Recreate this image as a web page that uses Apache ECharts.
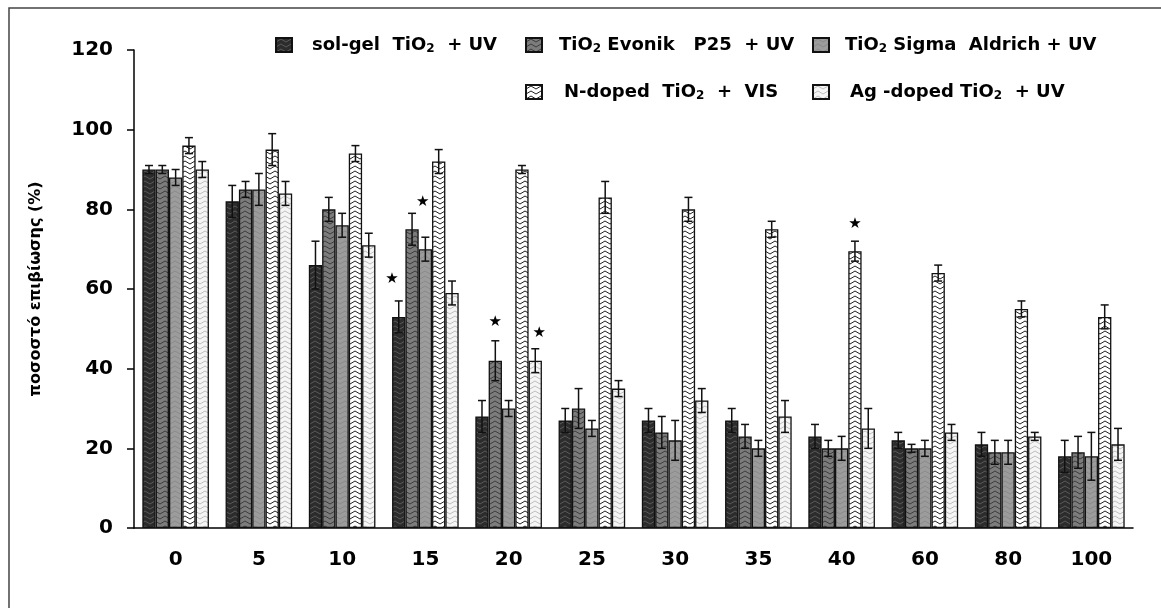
<!DOCTYPE html>
<html>
<head>
<meta charset="utf-8">
<script src="https://cdn.jsdelivr.net/npm/echarts@6/dist/echarts.min.js"></script>
<style>
  body { margin: 0; background: #fff; }
  #chart { width: 1161px; height: 608px; }
</style>
</head>
<body>
<div id="chart"></div>
<script>
// exposure time (min) on the x axis
var categories = ['0', '5', '10', '15', '20', '25', '30', '35', '40', '60', '80', '100'];

// survival % and error (+/-) for each treatment
var solGel    = [90, 82, 66, 53, 28, 27, 27, 27, 23, 22, 21, 18];
var solGelErr = [1, 4, 6, 4, 4, 3, 3, 3, 3, 2, 3, 4];
var p25       = [90, 85, 80, 75, 42, 30, 24, 23, 20, 20, 19, 19];
var p25Err    = [1, 2, 3, 4, 5, 5, 4, 3, 2, 1, 3, 4];
var sigma     = [88, 85, 76, 70, 30, 25, 22, 20, 20, 20, 19, 18];
var sigmaErr  = [2, 4, 3, 3, 2, 2, 5, 2, 3, 2, 3, 6];
var nDoped    = [96, 95, 94, 92, 90, 83, 80, 75, 69.5, 64, 55, 53];
var nDopedErr = [2, 4, 2, 3, 1, 4, 3, 2, 2.5, 2, 2, 3];
var agDoped   = [90, 84, 71, 59, 42, 35, 32, 28, 25, 24, 23, 21];
var agDopedErr = [2, 3, 3, 3, 3, 2, 3, 4, 5, 2, 1, 4];

// significance stars: [category index, bar slot, height]
var stars = [[3, -0.5, 62.5], [3, 1.8, 81.7], [4, 1, 51.6], [4, 4.3, 49], [8, 3, 76.2]];

var yTicks = [0, 20, 40, 60, 80, 100, 120];

var names = ['sol-gel', 'P25', 'Sigma', 'N-doped', 'Ag-doped'];
var legendText = {
    'sol-gel': ['sol-gel  TiO', '  + UV'],
    'P25': ['TiO', ' Evonik   P25  + UV'],
    'Sigma': ['TiO', ' Sigma  Aldrich + UV'],
    'N-doped': ['N-doped  TiO', '  +  VIS'],
    'Ag-doped': ['Ag -doped TiO', '  + UV']
};

var FONT = 'DejaVu Sans';

function makePattern(bg, fg) {
    var c = document.createElement('canvas');
    c.width = 10;
    c.height = 5;
    var ctx = c.getContext('2d');
    ctx.fillStyle = bg;
    ctx.fillRect(0, 0, 10, 5);
    ctx.strokeStyle = fg;
    ctx.lineWidth = 1;
    ctx.beginPath();
    ctx.moveTo(0, 4);
    ctx.lineTo(5, 1);
    ctx.lineTo(10, 4);
    ctx.stroke();
    return { image: c, repeat: 'repeat' };
}

var fills = [
    makePattern('#2c2c2c', '#5a5a5a'),
    makePattern('#7c7c7c', '#3c3c3c'),
    makePattern('#9c9c9c', '#8a8a8a'),
    makePattern('#ffffff', '#222222'),
    makePattern('#f5f5f5', '#bdbdbd')
];

var dataSets = [solGel, p25, sigma, nDoped, agDoped];
var errSets = [solGelErr, p25Err, sigmaErr, nDopedErr, agDopedErr];

var errData = [];
for (var s = 0; s < dataSets.length; s++) {
    for (var i = 0; i < categories.length; i++) {
        errData.push([i, s, dataSets[s][i], errSets[s][i]]);
    }
}

var dom = document.getElementById('chart');
var chart = echarts.init(dom);

var series = [];
for (var k = 0; k < names.length; k++) {
    series.push({
        name: names[k],
        type: 'bar',
        data: dataSets[k],
        barGap: '0%',
        barCategoryGap: '20%',
        itemStyle: { color: fills[k], borderColor: '#111', borderWidth: 1.3 }
    });
}

// error bars
series.push({
    type: 'custom',
    data: errData,
    encode: { x: 0, y: 2 },
    z: 10,
    silent: true,
    renderItem: function (params, api) {
        var cat = api.value(0), slot = api.value(1), v = api.value(2), e = api.value(3);
        var bw = api.size([1, 0])[0] * 0.8 / 5;
        var cx = api.coord([cat, 0])[0] + (slot - 2) * bw;
        var top = api.coord([cat, v + e])[1];
        var bot = api.coord([cat, v - e])[1];
        var st = { stroke: '#111', lineWidth: 1.5 };
        return {
            type: 'group',
            children: [
                { type: 'line', shape: { x1: cx, y1: top, x2: cx, y2: bot }, style: st },
                { type: 'line', shape: { x1: cx - 4, y1: top, x2: cx + 4, y2: top }, style: st },
                { type: 'line', shape: { x1: cx - 4, y1: bot, x2: cx + 4, y2: bot }, style: st }
            ]
        };
    }
});

// stars
series.push({
    type: 'custom',
    data: stars,
    encode: { x: 0, y: 2 },
    z: 11,
    silent: true,
    renderItem: function (params, api) {
        var cat = api.value(0), slot = api.value(1), v = api.value(2);
        var bw = api.size([1, 0])[0] * 0.8 / 5;
        var pt = api.coord([cat, v]);
        return {
            type: 'text',
            x: pt[0] + (slot - 2) * bw,
            y: pt[1],
            style: {
                text: '★', fill: '#000', font: 'bold 15px ' + FONT,
                align: 'center', verticalAlign: 'middle'
            }
        };
    }
});

// legend items: swatch left, top, gap before the text
var legendPos = [
    { left: 275, top: 36, gap: 15 },
    { left: 525, top: 36, gap: 12 },
    { left: 812, top: 36, gap: 11 },
    { left: 525, top: 83, gap: 17 },
    { left: 812, top: 83, gap: 16 }
];

var legends = names.map(function (n, idx) {
    return {
        data: [n],
        left: legendPos[idx].left,
        top: legendPos[idx].top,
        itemWidth: 16,
        itemHeight: 14,
        icon: 'rect',
        selectedMode: false,
        padding: 0,
        formatter: function (name) {
            var t = legendText[name];
            return '{g|}{t|' + t[0] + '}{s|2}{t|' + t[1] + '}';
        },
        textStyle: {
            rich: {
                g: { width: legendPos[idx].gap },
                t: { fontFamily: FONT, fontWeight: 'bold', fontSize: 18, color: '#000', lineHeight: 20 },
                s: { fontFamily: FONT, fontWeight: 'bold', fontSize: 12, color: '#000', lineHeight: 12, verticalAlign: 'bottom' }
            }
        }
    };
});

var option = {
    animation: false,
    backgroundColor: '#fff',
    graphic: [{
        type: 'rect',
        shape: { x: 9, y: 8, width: 1200, height: 700 },
        style: { fill: 'none', stroke: '#444', lineWidth: 1.5 },
        silent: true
    }],
    legend: legends,
    grid: { left: 134, right: 28, top: 50, bottom: 80 },
    xAxis: {
        type: 'category',
        data: categories,
        axisLine: { lineStyle: { color: '#000', width: 1.5 } },
        axisTick: { length: 10, lineStyle: { color: '#000', width: 1.5 } },
        axisLabel: { color: '#000', fontFamily: FONT, fontWeight: 'bold', fontSize: 20, margin: 22 }
    },
    yAxis: {
        type: 'value',
        min: yTicks[0],
        max: yTicks[yTicks.length - 1],
        interval: 20,
        name: 'ποσοστό επιβίωσης (%)',
        nameLocation: 'middle',
        nameGap: 90,
        nameTextStyle: { color: '#000', fontFamily: FONT, fontWeight: 'bold', fontSize: 16 },
        splitLine: { show: false },
        axisLine: { show: true, lineStyle: { color: '#000', width: 1.5 } },
        axisTick: { show: true, length: 7, lineStyle: { color: '#000', width: 1.5 } },
        axisLabel: { color: '#000', fontFamily: FONT, fontWeight: 'bold', fontSize: 20, margin: 21 }
    },
    series: series
};

chart.setOption(option);
</script>
</body>
</html>
